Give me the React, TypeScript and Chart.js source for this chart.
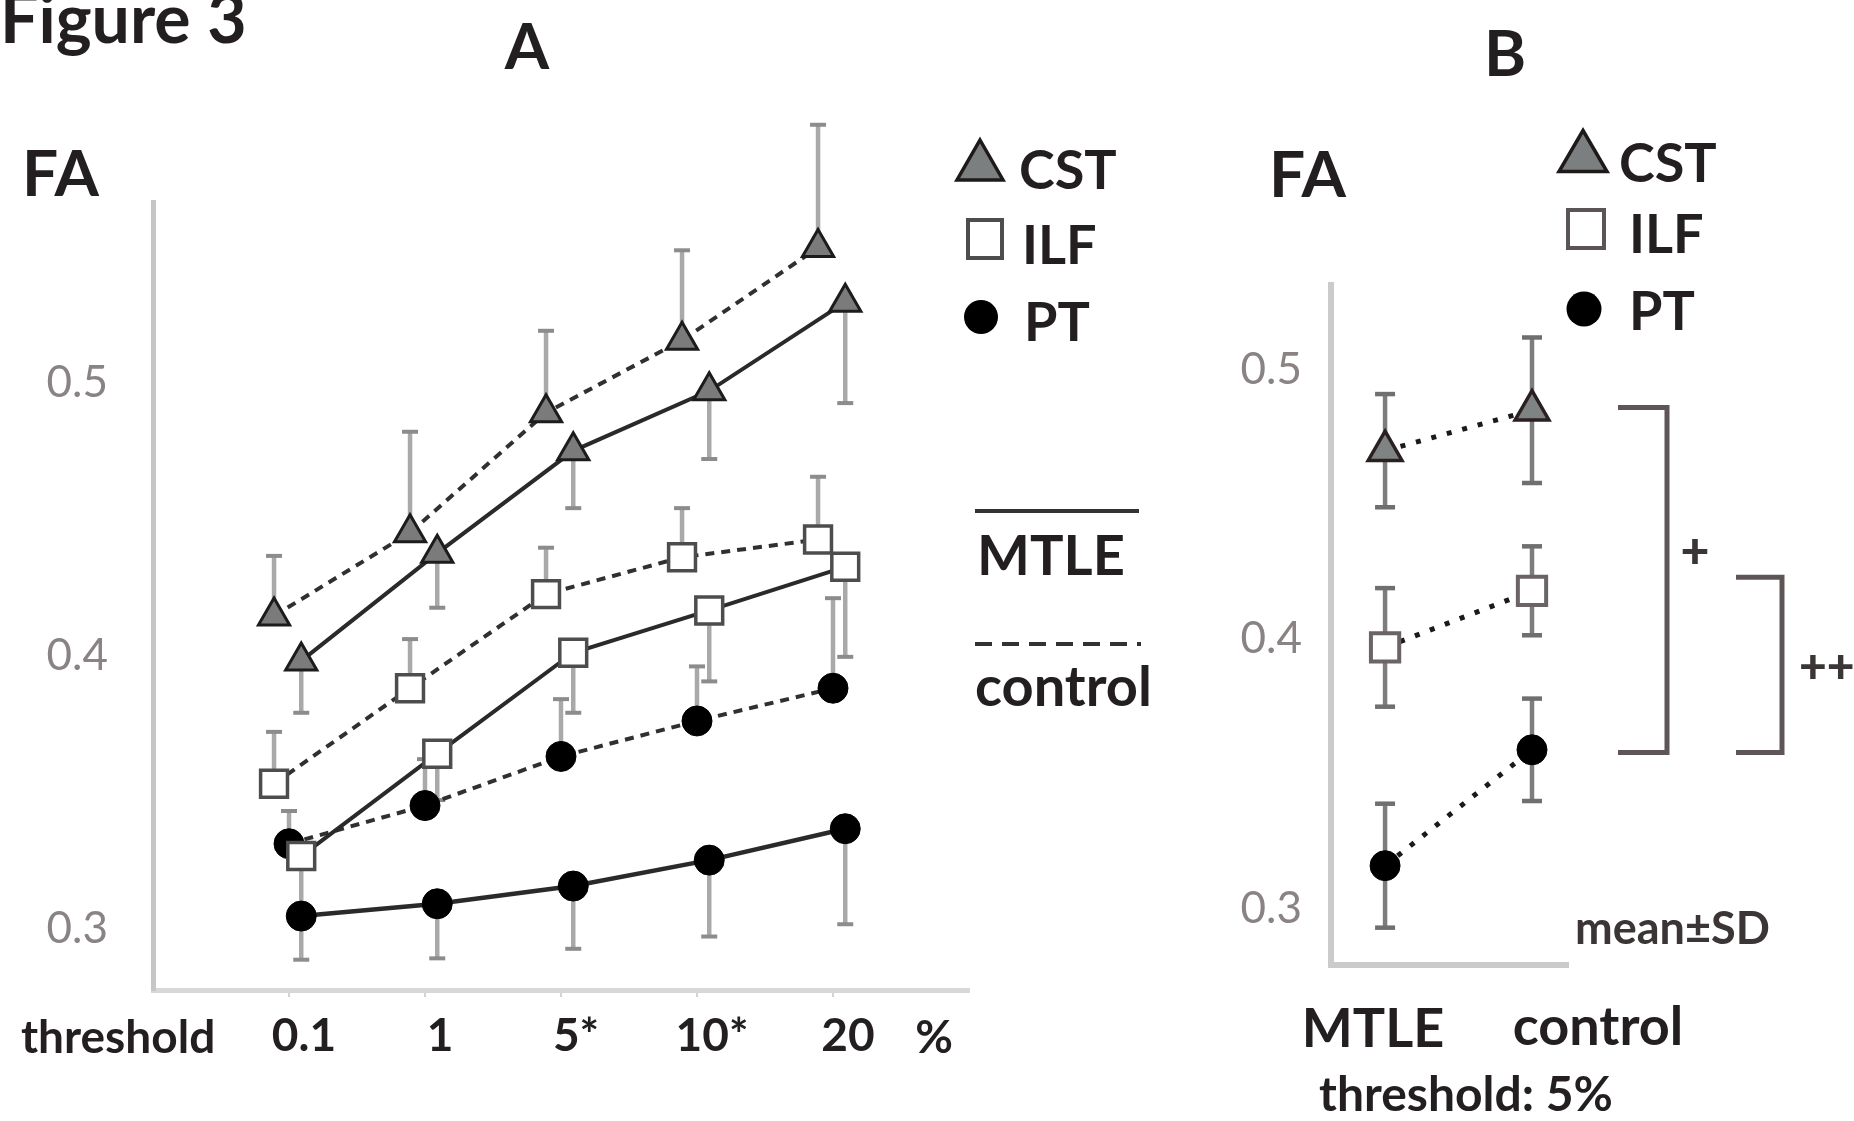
import React, { useEffect, useRef } from 'react';
import { Chart, registerables } from 'chart.js';

Chart.register(...registerables);

// ---------- data ----------
const thresholds = ['0.1', '1', '5*', '10*', '20'];
const yTickValues = [0.3, 0.4, 0.5];

// Panel A (mean FA, SD) per threshold
const cstControl = [0.4145, 0.445, 0.489, 0.5155, 0.5495];
const cstControlSD = [0.022, 0.037, 0.030, 0.033, 0.045];
const cstMTLE = [0.398, 0.4375, 0.475, 0.497, 0.5295];
const cstMTLESD = [0.019, 0.020, 0.021, 0.025, 0.037];
const ilfControl = [0.353, 0.388, 0.4225, 0.436, 0.4425];
const ilfControlSD = [0.019, 0.018, 0.017, 0.018, 0.023];
const ilfMTLE = [0.3265, 0.364, 0.401, 0.4165, 0.4325];
const ilfMTLESD = [0.019, 0.017, 0.022, 0.026, 0.033];
const ptControl = [0.331, 0.345, 0.363, 0.376, 0.388];
const ptControlSD = [0.012, 0.017, 0.021, 0.020, 0.033];
const ptMTLE = [0.3045, 0.309, 0.3155, 0.325, 0.3365];
const ptMTLESD = [0.016, 0.020, 0.023, 0.028, 0.035];

// Panel B (threshold 5%): [MTLE, control]
const groupsB = ['MTLE', 'control'];
const cstB = [0.470, 0.485];
const cstBSD = [0.021, 0.027];
const ilfB = [0.397, 0.418];
const ilfBSD = [0.022, 0.0165];
const ptB = [0.316, 0.359];
const ptBSD = [0.023, 0.019];

// significance brackets (FA ranges) and their marks
const bracketRanges = [[0.358, 0.486], [0.358, 0.423]];
const bracketMarks = ['+', '++'];

// ---------- styling ----------
const FONT = 'Lato, "Open Sans", "DejaVu Sans", sans-serif';
const TEXT = '#231f20';
const GRAY_TICK = '#8a8383';

const offsetControl = -0.11;
const offsetPTControl = 0;
const offsetMTLE = 0.09;

const pts = (vals: number[], off: number) => vals.map((v, i) => ({ x: i + 1 + off, y: v }));
const ptsB = (vals: number[]) => vals.map((v, i) => ({ x: i, y: v }));

const triA = { pointStyle: 'triangle', pointRadius: 18, pointBackgroundColor: '#7b7b7b', pointBorderColor: '#1c1c1c', pointBorderWidth: 3 };
const rectA = { pointStyle: 'rect', pointRadius: 19, pointBackgroundColor: '#ffffff', pointBorderColor: '#4d4d4d', pointBorderWidth: 3.5 };
const dotA = { pointStyle: 'circle', pointRadius: 15, pointBackgroundColor: '#000000', pointBorderColor: '#000000', pointBorderWidth: 1 };

const triB = { pointStyle: 'triangle', pointRadius: 19.5, pointBackgroundColor: '#7f8383', pointBorderColor: '#2a2020', pointBorderWidth: 3.5 };
const rectB = { pointStyle: 'rect', pointRadius: 20, pointBackgroundColor: '#ffffff', pointBorderColor: '#6a6464', pointBorderWidth: 4 };
const dotB = { pointStyle: 'circle', pointRadius: 15, pointBackgroundColor: '#000000', pointBorderColor: '#000000', pointBorderWidth: 1 };

const errorBarPlugin = {
  id: 'errorBars',
  beforeDatasetsDraw(chart: any, _args: any, opts: any) {
    const { ctx } = chart;
    const ys = chart.scales.y;
    ctx.save();
    chart.data.datasets.forEach((ds: any, di: number) => {
      const meta = chart.getDatasetMeta(di);
      meta.data.forEach((el: any, i: number) => {
        const v = ds.data[i].y;
        const sd = ds.sd[i];
        const x = el.x;
        const y0 = ys.getPixelForValue(v);
        const ends: number[] = [];
        if (ds.errDir === 'up' || ds.errDir === 'both') ends.push(ys.getPixelForValue(v + sd));
        if (ds.errDir === 'down' || ds.errDir === 'both') ends.push(ys.getPixelForValue(v - sd));
        ends.forEach((ye) => {
          ctx.strokeStyle = opts.color;
          ctx.lineWidth = opts.width;
          ctx.lineCap = 'butt';
          ctx.beginPath();
          ctx.moveTo(x, y0);
          ctx.lineTo(x, ye);
          ctx.stroke();
          ctx.strokeStyle = opts.capColor;
          ctx.lineWidth = opts.capThickness;
          ctx.beginPath();
          ctx.moveTo(x - opts.capHalf, ye);
          ctx.lineTo(x + opts.capHalf, ye);
          ctx.stroke();
        });
      });
    });
    ctx.restore();
  },
};

const bracketPlugin = {
  id: 'brackets',
  afterDraw(chart: any, _args: any, opts: any) {
    if (!opts || !opts.ranges) return;
    const { ctx } = chart;
    const ys = chart.scales.y;
    ctx.save();
    ctx.strokeStyle = opts.color;
    ctx.lineWidth = opts.width;
    ctx.lineJoin = 'miter';
    opts.ranges.forEach((r: number[], i: number) => {
      const [l, rgt] = opts.xs[i];
      const yb = ys.getPixelForValue(r[0]);
      const yt = ys.getPixelForValue(r[1]);
      ctx.beginPath();
      ctx.moveTo(l, yt);
      ctx.lineTo(rgt, yt);
      ctx.lineTo(rgt, yb);
      ctx.lineTo(l, yb);
      ctx.stroke();
    });
    ctx.restore();
  },
};

type Lbl = { text: string; x: number; y: number; size: number; align?: 'left' | 'center'; weight?: number; color?: string };

const labels: Lbl[] = [
  { text: 'Figure 3', x: 0, y: 43, size: 68 },
  { text: 'A', x: 527, y: 70, size: 64, align: 'center' },
  { text: 'B', x: 1505, y: 77, size: 64, align: 'center' },
  { text: 'FA', x: 22, y: 197, size: 64 },
  { text: 'FA', x: 1269, y: 198, size: 64 },
  { text: 'CST', x: 1019, y: 190, size: 54 },
  { text: 'ILF', x: 1022, y: 265, size: 54 },
  { text: 'PT', x: 1024, y: 342, size: 54 },
  { text: 'CST', x: 1619, y: 183, size: 54 },
  { text: 'ILF', x: 1629, y: 254, size: 54 },
  { text: 'PT', x: 1629, y: 331, size: 54 },
  { text: 'MTLE', x: 1051, y: 576, size: 56, align: 'center' },
  { text: 'control', x: 975, y: 707, size: 56 },
  { text: 'threshold', x: 21, y: 1054, size: 46 },
  { text: '%', x: 934, y: 1054, size: 46, align: 'center' },
  { text: 'mean±SD', x: 1575, y: 945, size: 45, color: '#3b3535' },
  { text: groupsB[0], x: 1373, y: 1048, size: 54, align: 'center' },
  { text: groupsB[1], x: 1598, y: 1046, size: 54, align: 'center' },
  { text: 'threshold: 5%', x: 1466, y: 1112, size: 48, align: 'center' },
  { text: bracketMarks[0], x: 1695, y: 568, size: 50, align: 'center', weight: 900, color: '#3b3535' },
  { text: bracketMarks[1], x: 1799, y: 684, size: 48, weight: 900, color: '#3b3535' },
];

function Label({ t }: { t: Lbl }) {
  return (
    <div
      style={{
        position: 'absolute',
        left: t.x,
        top: t.y - 0.887 * t.size,
        fontSize: t.size,
        lineHeight: `${t.size}px`,
        fontFamily: FONT,
        fontWeight: t.weight ?? 700,
        color: t.color ?? TEXT,
        whiteSpace: 'nowrap',
        transform: t.align === 'center' ? 'translateX(-50%)' : undefined,
      }}
    >
      {t.text}
    </div>
  );
}

function Triangle({ cx, cy, w, h }: { cx: number; cy: number; w: number; h: number }) {
  const p = `${cx},${cy - h / 2} ${cx + w / 2},${cy + h / 2} ${cx - w / 2},${cy + h / 2}`;
  return <polygon points={p} fill="#7c7f7f" stroke="#1f1a1a" strokeWidth={3.5} strokeLinejoin="miter" />;
}

export default function App() {
  const refA = useRef<HTMLCanvasElement>(null);
  const refB = useRef<HTMLCanvasElement>(null);

  useEffect(() => {
    const tickFontA = { family: FONT, size: 46, weight: 'bold' as const };
    const yTickFont = { family: FONT, size: 44, weight: 'normal' as const };

    const chartA = new Chart(refA.current!, {
      type: 'scatter',
      data: {
        datasets: [
          { label: 'CST control', data: pts(cstControl, offsetControl), sd: cstControlSD, errDir: 'up', showLine: true, borderColor: '#303030', borderWidth: 4, borderDash: [9, 7], ...triA } as any,
          { label: 'CST MTLE', data: pts(cstMTLE, offsetMTLE), sd: cstMTLESD, errDir: 'down', showLine: true, borderColor: '#2a2a2a', borderWidth: 4, ...triA } as any,
          { label: 'ILF control', data: pts(ilfControl, offsetControl), sd: ilfControlSD, errDir: 'up', showLine: true, borderColor: '#303030', borderWidth: 4, borderDash: [9, 7], ...rectA } as any,
          { label: 'ILF MTLE', data: pts(ilfMTLE, offsetMTLE), sd: ilfMTLESD, errDir: 'down', showLine: true, borderColor: '#2a2a2a', borderWidth: 4, ...rectA } as any,
          { label: 'PT control', data: pts(ptControl, offsetPTControl), sd: ptControlSD, errDir: 'up', showLine: true, borderColor: '#303030', borderWidth: 4, borderDash: [9, 7], ...dotA } as any,
          { label: 'PT MTLE', data: pts(ptMTLE, offsetMTLE), sd: ptMTLESD, errDir: 'down', showLine: true, borderColor: '#2a2a2a', borderWidth: 4.5, ...dotA } as any,
        ],
      },
      options: {
        animation: false,
        responsive: false,
        devicePixelRatio: 1,
        layout: { padding: { top: 202, right: 31, left: 0, bottom: 0 } },
        plugins: {
          legend: { display: false },
          tooltip: { enabled: false },
          errorBars: { color: '#a9a9a9', width: 4.5, capColor: '#8c8c8c', capThickness: 4, capHalf: 8 },
        } as any,
        scales: {
          x: {
            type: 'linear',
            min: 0,
            max: 6,
            afterFit: (s: any) => { s.height = 131; },
            afterBuildTicks: (s: any) => { s.ticks = thresholds.map((_, i) => ({ value: i + 1 })); },
            ticks: {
              callback: (v: any) => thresholds[Number(v) - 1] ?? '',
              font: tickFontA,
              color: TEXT,
              labelOffset: 15,
              padding: 12,
              maxRotation: 0,
              autoSkip: false,
            },
            grid: { display: true, drawOnChartArea: false, drawTicks: true, tickLength: 7, color: '#d2d2d2', lineWidth: 2 },
            border: { display: true, color: '#d8d8d8', width: 5 },
          },
          y: {
            min: 0.2774,
            max: 0.5662,
            afterFit: (s: any) => { s.width = 153; },
            afterBuildTicks: (s: any) => { s.ticks = yTickValues.map((v) => ({ value: v })); },
            ticks: { callback: (v: any) => Number(v).toFixed(1), font: yTickFont, color: GRAY_TICK, padding: 45 },
            grid: { display: false, drawTicks: false },
            border: { display: true, color: '#c6c6c6', width: 5 },
          },
        },
      },
      plugins: [errorBarPlugin],
    });

    const chartB = new Chart(refB.current!, {
      type: 'scatter',
      data: {
        datasets: [
          { label: 'CST', data: ptsB(cstB), sd: cstBSD, errDir: 'both', showLine: true, borderColor: '#1a1a1a', borderWidth: 5, borderDash: [5, 11], ...triB } as any,
          { label: 'ILF', data: ptsB(ilfB), sd: ilfBSD, errDir: 'both', showLine: true, borderColor: '#1a1a1a', borderWidth: 5, borderDash: [5, 11], ...rectB } as any,
          { label: 'PT', data: ptsB(ptB), sd: ptBSD, errDir: 'both', showLine: true, borderColor: '#1a1a1a', borderWidth: 5, borderDash: [5, 11], ...dotB } as any,
        ],
      },
      options: {
        animation: false,
        responsive: false,
        devicePixelRatio: 1,
        layout: { padding: { top: 285, right: 286, left: 0, bottom: 0 } },
        plugins: {
          legend: { display: false },
          tooltip: { enabled: false },
          errorBars: { color: '#7d7d7d', width: 4.5, capColor: '#6f6f6f', capThickness: 4.5, capHalf: 10 },
          brackets: { ranges: bracketRanges, xs: [[618, 667], [736, 782]], color: '#5e5656', width: 5 },
        } as any,
        scales: {
          x: {
            type: 'linear',
            min: -0.368,
            max: 1.245,
            afterFit: (s: any) => { s.height = 156; },
            ticks: { display: false },
            grid: { display: false, drawTicks: false },
            border: { display: true, color: '#cbcbcb', width: 6 },
          },
          y: {
            min: 0.27915,
            max: 0.53147,
            afterFit: (s: any) => { s.width = 331; },
            afterBuildTicks: (s: any) => { s.ticks = yTickValues.map((v) => ({ value: v })); },
            ticks: { callback: (v: any) => Number(v).toFixed(1), font: yTickFont, color: GRAY_TICK, padding: 29 },
            grid: { display: false, drawTicks: false },
            border: { display: true, color: '#cbcbcb', width: 6 },
          },
        },
      },
      plugins: [errorBarPlugin, bracketPlugin],
    });

    return () => {
      chartA.destroy();
      chartB.destroy();
    };
  }, []);

  return (
    <div style={{ position: 'absolute', left: 0, top: 0, width: 1854, height: 1121, overflow: 'hidden', background: '#ffffff' }}>
      <canvas ref={refA} width={1000} height={1121} style={{ position: 'absolute', left: 0, top: 0, width: 1000, height: 1121 }} />
      <canvas ref={refB} width={854} height={1121} style={{ position: 'absolute', left: 1000, top: 0, width: 854, height: 1121 }} />
      <svg width={1854} height={1121} style={{ position: 'absolute', left: 0, top: 0, pointerEvents: 'none' }}>
        {/* Panel A legend symbols */}
        <Triangle cx={980} cy={160} w={46} h={40} />
        <rect x={968} y={220} width={34} height={38} fill="#ffffff" stroke="#4d4d4d" strokeWidth={4} />
        <circle cx={981} cy={317} r={17} fill="#000000" />
        <line x1={975} y1={511} x2={1139} y2={511} stroke="#333333" strokeWidth={4} />
        <line x1={975} y1={644} x2={1141} y2={644} stroke="#333333" strokeWidth={4} strokeDasharray="17 10" />
        {/* Panel B legend symbols */}
        <Triangle cx={1583} cy={151} w={48} h={41} />
        <rect x={1568} y={210} width={36} height={38} fill="#ffffff" stroke="#5a5454" strokeWidth={4} />
        <circle cx={1584} cy={309} r={17.5} fill="#000000" />
      </svg>
      {labels.map((t, i) => (
        <Label key={i} t={t} />
      ))}
    </div>
  );
}
